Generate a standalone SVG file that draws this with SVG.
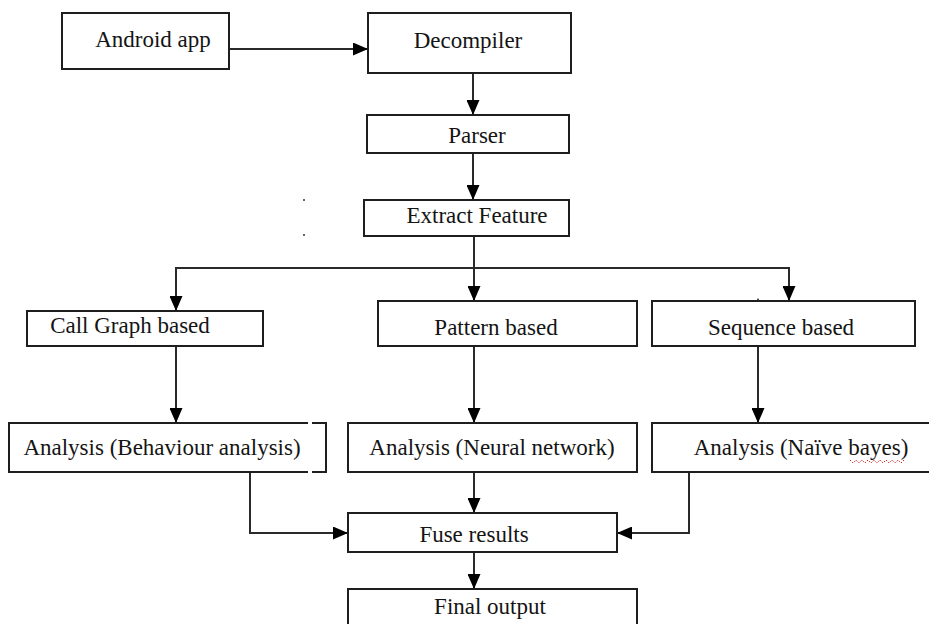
<svg xmlns="http://www.w3.org/2000/svg" width="929" height="624" viewBox="0 0 929 624">
<style>
.box{fill:#fff;stroke:#1e1e1e;stroke-width:2}
.lbl{font-family:"Liberation Serif","Times New Roman",serif;font-size:23px;fill:#141414;text-anchor:middle}
.con{fill:none;stroke:#2a2a2a;stroke-width:2}
</style>
<defs>
<marker id="ah" markerUnits="userSpaceOnUse" markerWidth="15" markerHeight="13" refX="15" refY="6.5" orient="auto">
<path d="M0,0 L15,6.5 L0,13 Z" fill="#000"/>
</marker>
</defs>
<rect width="929" height="624" fill="#fff"/>
<g id="connectors">
<path class="con" d="M229,49 H368" marker-end="url(#ah)"/>
<path class="con" d="M473,73 V115" marker-end="url(#ah)"/>
<path class="con" d="M473,153 V200" marker-end="url(#ah)"/>
<path class="con" d="M474,236 V301" marker-end="url(#ah)"/>
<path class="con" d="M474,268 H176 V311" marker-end="url(#ah)"/>
<path class="con" d="M474,268 H789 V301" marker-end="url(#ah)"/>
<path class="con" d="M176,346 V423" marker-end="url(#ah)"/>
<path class="con" d="M474,346 V423" marker-end="url(#ah)"/>
<path class="con" d="M758,346 V423" marker-end="url(#ah)"/>
<path class="con" d="M474,472 V513" marker-end="url(#ah)"/>
<path class="con" d="M250,472 V533 H348" marker-end="url(#ah)"/>
<path class="con" d="M689,472 V533 H617" marker-end="url(#ah)"/>
<path class="con" d="M474,552 V589" marker-end="url(#ah)"/>
</g>
<g id="android-app"><rect class="box" x="62" y="13" width="167" height="56"/><text class="lbl" x="153" y="47">Android app</text></g>
<g id="decompiler"><rect class="box" x="368" y="13" width="203" height="60"/><text class="lbl" x="468" y="48">Decompiler</text></g>
<g id="parser"><rect class="box" x="367" y="115" width="202" height="38"/><text class="lbl" x="477" y="143">Parser</text></g>
<g id="extract-feature"><rect class="box" x="364" y="200" width="205" height="36"/><text class="lbl" x="477" y="223">Extract Feature</text></g>
<g id="call-graph"><rect class="box" x="27" y="311" width="236" height="35"/><text class="lbl" x="130" y="333">Call Graph based</text></g>
<g id="pattern"><rect class="box" x="378" y="301" width="259" height="45"/><text class="lbl" x="496" y="335">Pattern based</text></g>
<g id="sequence"><rect class="box" x="652" y="301" width="263" height="45"/><text class="lbl" x="781" y="335">Sequence based</text></g>
<g id="behaviour-analysis"><path class="box" d="M308,423 H9 V472 H308 M312,423 H326 V472 H312" fill="none"/><text class="lbl" x="162" y="455">Analysis (Behaviour analysis)</text></g>
<g id="neural-analysis"><rect class="box" x="348" y="423" width="289" height="49"/><text class="lbl" x="492" y="455">Analysis (Neural network)</text></g>
<g id="naive-analysis"><rect class="box" x="652" y="423" width="290" height="49"/><text class="lbl" x="801" y="455">Analysis (Naïve bayes)</text><path d="M850,460 l3,3 l3,-3 l3,3 l3,-3 l3,3 l3,-3 l3,3 l3,-3 l3,3 l3,-3 l3,3 l3,-3 l3,3 l3,-3 l3,3 l3,-3 l3,3 l3,-3" fill="none" stroke="#e02020" stroke-width="1" stroke-dasharray="1.5 1.5"/></g>
<g id="fuse-results"><rect class="box" x="348" y="513" width="269" height="39"/><text class="lbl" x="474" y="542">Fuse results</text></g>
<g id="final-output"><rect class="box" x="348" y="589" width="289" height="45"/><text class="lbl" x="490" y="614">Final output</text></g>
<g id="specks" fill="#333"><circle cx="304" cy="200" r="1"/><circle cx="304" cy="235" r="1"/><circle cx="758" cy="299.5" r="1"/></g>
</svg>
